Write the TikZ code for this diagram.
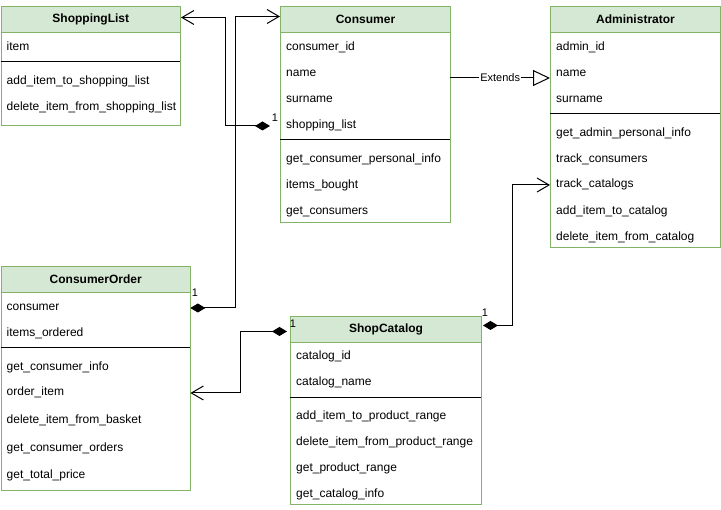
\documentclass[tikz,border=0pt]{standalone}
\usepackage{fontspec}
\setmainfont{Liberation Sans}
\usetikzlibrary{arrows.meta,calc}
\definecolor{hfill}{HTML}{D5E8D4}
\definecolor{bord}{HTML}{82B366}
\tikzset{
  umlbox/.style={draw=bord, line width=1pt, fill=white, anchor=north west, inner sep=0pt},
  umlhead/.style={draw=bord, line width=1pt, fill=hfill, anchor=north west, inner sep=0pt, minimum height=26pt, font=\fontsize{12}{14}\selectfont\bfseries},
  row/.style={anchor=west, yshift=-2pt, inner xsep=6pt, inner ysep=0pt, text height=8.6pt, text depth=2.6pt, text width=#1, align=left, font=\fontsize{12}{14}\selectfont},
  sepline/.style={line width=1pt, black},
  conn/.style={line width=1pt, black},
  comp/.style={conn, {Diamond[length=15pt,width=9pt]}-{Straight Barb[length=12pt,width=14pt]}},
  ext/.style={conn, -{Triangle[open,length=17pt,width=16pt,fill=white]}},
  mult/.style={font=\fontsize{11}{13}\selectfont, inner sep=0pt},
}
\begin{document}
\begin{tikzpicture}[x=1pt,y=-1pt]
\useasboundingbox (0,0) rectangle (721,510);

% ShoppingList
\node[umlbox, minimum width=179.5pt, minimum height=119pt] (sl) at (0.5,6) {};
\node[umlhead, minimum width=179.5pt] (slh) at (0.5,6) {ShoppingList};
\node[row=167.5pt] (sl1) at (0.5,46) {item};
\draw[sepline] (0.5,62) -- (180,62);
\node[row=167.5pt] (sl2) at (0.5,80) {add\_item\_to\_shopping\_list};
\node[row=167.5pt] (sl3) at (0.5,106) {delete\_item\_from\_shopping\_list};

% Consumer
\node[umlbox, minimum width=170pt, minimum height=216pt] (c) at (280,6) {};
\node[umlhead, minimum width=170pt] (ch) at (280,6) {Consumer};
\node[row=158pt] (c1) at (280,46) {consumer\_id};
\node[row=158pt] (c2) at (280,72) {name};
\node[row=158pt] (c3) at (280,98) {surname};
\node[row=158pt] (c4) at (280,124) {shopping\_list};
\draw[sepline] (280,140) -- (450,140);
\node[row=158pt] (c5) at (280,158) {get\_consumer\_personal\_info};
\node[row=158pt] (c6) at (280,184) {items\_bought};
\node[row=158pt] (c7) at (280,210) {get\_consumers};

% Administrator
\node[umlbox, minimum width=170pt, minimum height=241pt] (a) at (550,6) {};
\node[umlhead, minimum width=170pt] (ah) at (550,6) {Administrator};
\node[row=158pt] (a1) at (550,46) {admin\_id};
\node[row=158pt] (a2) at (550,72) {name};
\node[row=158pt] (a3) at (550,98) {surname};
\draw[sepline] (550,114) -- (720,114);
\node[row=158pt] (a4) at (550,132) {get\_admin\_personal\_info};
\node[row=158pt] (a5) at (550,158) {track\_consumers};
\node[row=158pt] (a6) at (550,183) {track\_catalogs};
\node[row=158pt] (a7) at (550,210) {add\_item\_to\_catalog};
\node[row=158pt] (a8) at (550,236) {delete\_item\_from\_catalog};

% ConsumerOrder
\node[umlbox, minimum width=189.5pt, minimum height=224pt] (co) at (0.5,266) {};
\node[umlhead, minimum width=189.5pt] (coh) at (0.5,266) {ConsumerOrder};
\node[row=177.5pt] (co1) at (0.5,306) {consumer};
\node[row=177.5pt] (co2) at (0.5,332) {items\_ordered};
\draw[sepline] (0.5,348) -- (190,348);
\node[row=177.5pt] (co3) at (0.5,366) {get\_consumer\_info};
\node[row=177.5pt] (co4) at (0.5,391) {order\_item};
\node[row=177.5pt] (co5) at (0.5,419) {delete\_item\_from\_basket};
\node[row=177.5pt] (co6) at (0.5,447) {get\_consumer\_orders};
\node[row=177.5pt] (co7) at (0.5,474) {get\_total\_price};

% ShopCatalog
\node[umlbox, minimum width=191pt, minimum height=188pt] (sc) at (290,316) {};
\node[umlhead, minimum width=191pt] (sch) at (290,316) {ShopCatalog};
\node[row=179pt] (sc1) at (290,355) {catalog\_id};
\node[row=179pt] (sc2) at (290,381) {catalog\_name};
\draw[sepline] (290,398) -- (481,398);
\node[row=179pt] (sc3) at (290,415) {add\_item\_to\_product\_range};
\node[row=179pt] (sc4) at (290,441) {delete\_item\_from\_product\_range};
\node[row=179pt] (sc5) at (290,467) {get\_product\_range};
\node[row=179pt] (sc6) at (290,493) {get\_catalog\_info};

% Connectors
\draw[comp] ([xshift=-10pt]c4.west) -- ++(-45,0) |- ([yshift=2pt]slh.east);
\draw[comp] (co1.east) -- ++(45,0) |- ([yshift=3pt]ch.west);
\draw[ext] ([yshift=-4pt]c2.east) -- ([yshift=-4pt]a2.west)
  node[midway, fill=white, inner sep=1pt, font=\fontsize{11}{13}\selectfont] (extl) {Extends};
\draw[comp] ([xshift=1pt,yshift=4pt]sch.east) -- ++(29,0) |- (a6.west);
\draw[comp] ([xshift=-3pt,yshift=-2pt]sch.west) -- ++(-47,0) |- (co4.east);

% Multiplicities
\node[mult] (m1) at (275,118) {1};
\node[mult] (m2) at (195,293) {1};
\node[mult] (m3) at (293,324) {1};
\node[mult] (m4) at (485,313) {1};
\end{tikzpicture}
\end{document}
